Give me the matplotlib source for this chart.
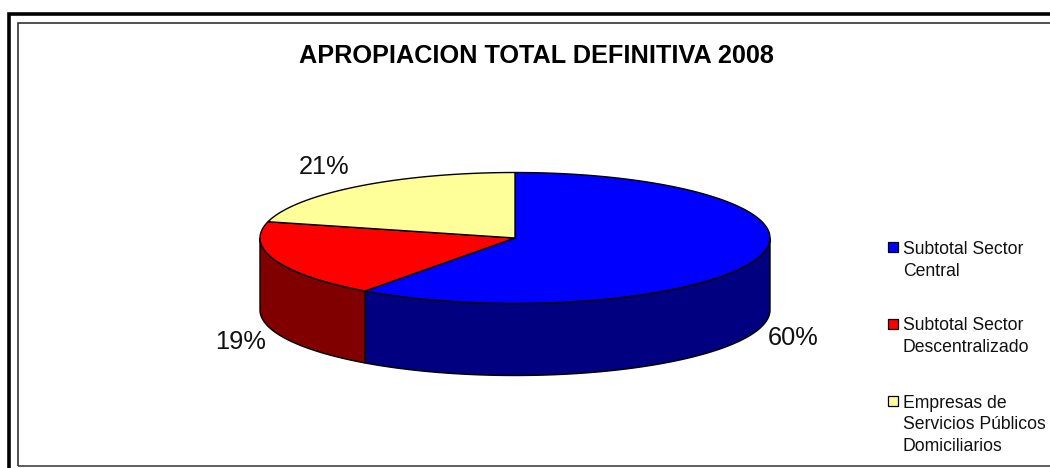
import numpy as np
import matplotlib
matplotlib.use('Agg')
import matplotlib.pyplot as plt
from matplotlib.patches import Polygon, Rectangle

plt.rcParams['font.family'] = ['Liberation Sans', 'DejaVu Sans']

title = 'APROPIACION TOTAL DEFINITIVA 2008'
categories = ['Subtotal Sector\nCentral', 'Subtotal Sector\nDescentralizado',
              'Empresas de\nServicios Públicos\nDomiciliarios']
values = [60, 19, 21]
labels = ['60%', '19%', '21%']
top_colors = ['#0000FF', '#FF0000', '#FFFF99']
side_colors = ['#000080', '#800000', '#808040']

W, H = 1050, 468
fig = plt.figure(figsize=(W / 100, H / 100), dpi=100, facecolor='white')

# pixel overlay for frame, legend, text
pa = fig.add_axes([0, 0, 1, 1], zorder=0)
pa.set_xlim(0, W); pa.set_ylim(H, 0); pa.axis('off')
# frame is cut off by the right (and, for the outer one, bottom) image edge
pa.plot([8.5, 8.5, W], [H, 13.5, 13.5], color='black', lw=2.6, solid_joinstyle='miter', solid_capstyle='butt')
pa.plot([17.5, 17.5, W], [465.5, 22.5, 22.5], color='#222222', lw=1.1, solid_joinstyle='miter', solid_capstyle='butt')
pa.plot([17.5, W], [465.5, 465.5], color='#333333', lw=1.1, solid_capstyle='butt')

pa.text(536.5, 56, title, ha='center', va='center', fontsize=18.2, fontweight='bold', color='black')
pa.text(324.5, 167, labels[2], ha='center', va='center', fontsize=18.3, color='#111111')
pa.text(240.5, 342, labels[1], ha='center', va='center', fontsize=18.3, color='#111111')
pa.text(793, 338, labels[0], ha='center', va='center', fontsize=18.3, color='#111111')

leg_y = [246.5, 323.5, 401]
leg_text_y = [241.5, 317.5, 395]
for c, t, y, ty in zip(top_colors, categories, leg_y, leg_text_y):
    pa.add_patch(Rectangle((887.5, y - 5), 10, 10, fc=c, ec='black', lw=0.9))
    pa.text(903, ty, t, ha='left', va='top', fontsize=12.7, color='#111111', linespacing=1.33)

# pie: data are unit-circle coordinates stretched by the axes box
cx, cy, rx, ry, depth = 515, 238, 255, 65.5, 72
ax = fig.add_axes([(cx - rx) / W, 1 - (cy + ry) / H, 2 * rx / W, 2 * ry / H], zorder=1)
ax.set_xlim(-1, 1); ax.set_ylim(-1, 1); ax.axis('off')
d = depth / ry

fr = np.cumsum([0] + values) / sum(values)
ang = fr * 2 * np.pi            # clockwise from 12 o'clock

def pts(a0, a1, n=200):
    t = np.linspace(a0, a1, n)
    return np.sin(t), np.cos(t)

# side walls (front half only: angle between 90 and 270 degrees)
for i in range(len(values)):
    a0 = max(ang[i], np.pi / 2); a1 = min(ang[i + 1], 3 * np.pi / 2)
    if a1 <= a0:
        continue
    x, y = pts(a0, a1)
    xy = np.r_[np.c_[x, y], np.c_[x[::-1], y[::-1] - d]]
    ax.add_patch(Polygon(xy, closed=True, fc=side_colors[i], ec='black', lw=1.0, clip_on=False, zorder=2))

# top slices
for i in range(len(values)):
    x, y = pts(ang[i], ang[i + 1])
    xy = np.r_[[[0, 0]], np.c_[x, y]]
    ax.add_patch(Polygon(xy, closed=True, fc=top_colors[i], ec='black', lw=1.0, clip_on=False, zorder=3))

fig.savefig('out.png', dpi=100, facecolor='white')
